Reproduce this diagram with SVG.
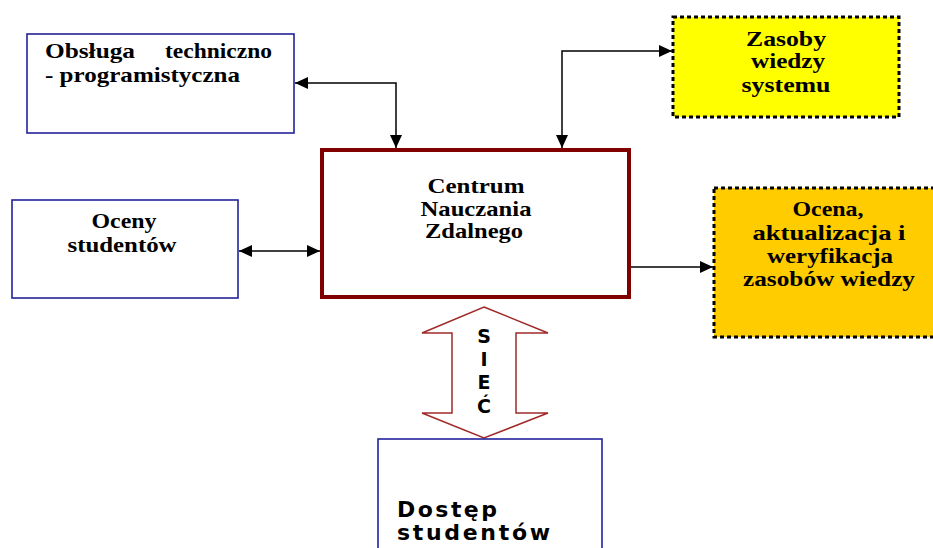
<svg xmlns="http://www.w3.org/2000/svg" width="933" height="548" viewBox="0 0 933 548">
<defs>
<style>
.blue{fill:#ffffff;stroke:#22229a;stroke-width:1.6}
.dot{stroke:#000;stroke-width:3;stroke-dasharray:4 3}
.t{font-family:"Liberation Serif","Times New Roman",serif;font-weight:bold;font-size:21px;fill:#000}
.c{text-anchor:middle}
.s{font-family:"DejaVu Sans","Verdana",sans-serif;font-weight:bold;fill:#000}
.ln{fill:none;stroke:#000;stroke-width:1.5}
</style>
<marker id="ah" markerUnits="userSpaceOnUse" markerWidth="14" markerHeight="12" refX="13" refY="6" orient="auto-start-reverse">
<path d="M0,0 L13,6 L0,12 z" fill="#000"/>
</marker>
</defs>
<rect width="933" height="548" fill="#ffffff"/>

<g id="obsluga">
<rect class="blue" x="27" y="34" width="267" height="99"/>
<text class="t" x="45" y="58" font-size="20" textLength="90" lengthAdjust="spacingAndGlyphs">Obsługa</text>
<text class="t" x="165" y="58" font-size="20" textLength="107" lengthAdjust="spacingAndGlyphs">techniczno</text>
<text class="t" x="45" y="82" font-size="20" textLength="195" lengthAdjust="spacingAndGlyphs">- programistyczna</text>
</g>

<g id="zasoby">
<rect class="dot" x="673" y="17" width="226" height="100" fill="#ffff00"/>
<text class="t c" x="786" y="46" textLength="80" lengthAdjust="spacingAndGlyphs">Zasoby</text>
<text class="t c" x="788" y="68" textLength="74" lengthAdjust="spacingAndGlyphs">wiedzy</text>
<text class="t c" x="786" y="92" textLength="89" lengthAdjust="spacingAndGlyphs">systemu</text>
</g>

<g id="ocena">
<rect class="dot" x="714" y="188" width="235" height="149" fill="#ffcc00"/>
<text class="t c" x="828" y="216" font-size="20" textLength="71" lengthAdjust="spacingAndGlyphs">Ocena,</text>
<text class="t c" x="829" y="240" font-size="20" textLength="153" lengthAdjust="spacingAndGlyphs">aktualizacja  i</text>
<text class="t c" x="830" y="263" font-size="20" textLength="126" lengthAdjust="spacingAndGlyphs">weryfikacja</text>
<text class="t c" x="829" y="286" font-size="20" textLength="172" lengthAdjust="spacingAndGlyphs">zasobów wiedzy</text>
</g>

<g id="oceny">
<rect class="blue" x="12" y="200" width="226" height="98"/>
<text class="t c" x="124" y="228" textLength="65" lengthAdjust="spacingAndGlyphs">Oceny</text>
<text class="t c" x="122" y="252" textLength="109" lengthAdjust="spacingAndGlyphs">studentów</text>
</g>

<g id="centrum">
<rect x="322" y="150" width="307" height="147" fill="#ffffff" stroke="#800000" stroke-width="4"/>
<text class="t c" x="476" y="193" font-size="22" textLength="97" lengthAdjust="spacingAndGlyphs">Centrum</text>
<text class="t c" x="476" y="216" font-size="22" textLength="111" lengthAdjust="spacingAndGlyphs">Nauczania</text>
<text class="t c" x="474" y="238" font-size="22" textLength="98" lengthAdjust="spacingAndGlyphs">Zdalnego</text>
</g>

<g id="siec">
<polygon points="484,307 548,333 516,333 516,413 548,413 484,438 422,413 452,413 452,333 422,333" fill="#ffffff" stroke="#a02a2a" stroke-width="1.5"/>
<g class="s c" font-size="19">
<text x="484" y="343">S</text>
<text x="484" y="366">I</text>
<text x="484" y="389">E</text>
<text x="484" y="413">Ć</text>
</g>
</g>

<g id="dostep">
<rect class="blue" x="378" y="439" width="224" height="120"/>
<text class="s" x="397" y="517" font-size="22" textLength="100" lengthAdjust="spacing">Dostęp</text>
<text class="s" x="397" y="540" font-size="22" textLength="153" lengthAdjust="spacing">studentów</text>
</g>

<g id="connectors">
<path class="ln" d="M396 148 L396 83 L295 83" marker-start="url(#ah)" marker-end="url(#ah)"/>
<path class="ln" d="M562 148 L562 51 L672 51" marker-start="url(#ah)" marker-end="url(#ah)"/>
<path class="ln" d="M239 251 L320 251" marker-start="url(#ah)" marker-end="url(#ah)"/>
<path class="ln" d="M631 267 L713 267" marker-end="url(#ah)"/>
</g>
</svg>
